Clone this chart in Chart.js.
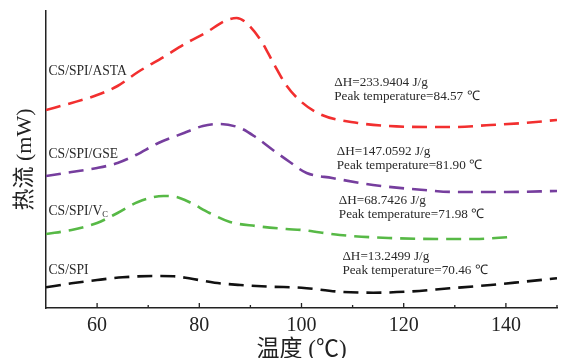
<!DOCTYPE html>
<html>
<head>
<meta charset="utf-8">
<script src="https://cdn.jsdelivr.net/npm/chart.js@4.4.0/dist/chart.umd.min.js"></script>
<style>
  html, body { margin: 0; padding: 0; background: #fff; }
  #wrap { width: 563px; height: 358px; }
</style>
</head>
<body>
<div id="wrap"><canvas id="dsc"></canvas></div>
<script>
// DSC heat-flow curves, temperature in °C, heat flow offset per sample (mW)
const astaT  = [50, 55, 60, 64, 68, 73, 77.5, 81.5, 85, 87.3, 89, 92, 94.5, 97, 100, 104, 111, 117, 125, 130, 137, 143.5, 150];
const astaHF = [19.8, 20.5, 21.3, 22.2, 23.6, 25.1, 26.5, 27.6, 28.7, 29.0, 28.6, 26.8, 24.5, 22.3, 20.6, 19.3, 18.5, 18.2, 18.1, 18.1, 18.3, 18.5, 18.8];

const gseT  = [50, 55, 60, 64, 67.6, 72, 77, 80.7, 84, 88, 91, 94.4, 97.7, 101, 106, 114, 124, 130, 140, 150];
const gseHF = [13.2, 13.6, 14.0, 14.5, 15.3, 16.5, 17.5, 18.2, 18.4, 18.0, 17.1, 15.8, 14.6, 13.5, 13.0, 12.3, 11.8, 11.6, 11.6, 11.7];

const vcT  = [50, 55, 60, 64, 68, 73, 75.5, 78, 82, 86, 91, 97, 100, 107.5, 117, 127, 134, 141];
const vcHF = [7.4, 7.8, 8.5, 9.5, 10.6, 11.2, 11.1, 10.6, 9.5, 8.6, 8.2, 7.9, 7.8, 7.3, 7.0, 6.9, 6.9, 7.1];

const spiT  = [50, 55, 60, 65, 71, 75, 78, 83, 88, 94, 100, 107.5, 114, 120.6, 129, 137, 143.5, 150];
const spiHF = [2.07, 2.47, 2.8, 3.07, 3.2, 3.17, 2.97, 2.53, 2.3, 2.13, 2.03, 1.63, 1.53, 1.63, 1.97, 2.3, 2.63, 2.97];

const xTicks = [60, 80, 100, 120, 140];
const xMinorTicks = [70, 90, 110, 130, 150];

const sampleNames = ['CS/SPI/ASTA', 'CS/SPI/GSE', 'CS/SPI/V', 'CS/SPI'];
const enthalpies = ['233.9404', '147.0592', '68.7426', '13.2499'];
const peakTemps = ['84.57', '81.90', '71.98', '70.46'];

// where the text goes, in axis units
const nameSpots = [[50.5, 23.7], [50.5, 15.4], [50.5, 9.7], [50.5, 3.8]];
const noteSpots = [[106.4, 22.5], [106.9, 15.6], [107.3, 10.7], [108.0, 5.1]];

const serif = '"Liberation Serif", "Times New Roman", serif';

function pts(xs, ys) {
    return xs.map((x, i) => ({ x: x, y: ys[i] }));
}

function curve(xs, ys, color) {
    return {
        data: pts(xs, ys),
        borderColor: color,
        borderWidth: 2.6,
        borderDash: [15, 8],
        pointRadius: 0,
        cubicInterpolationMode: 'monotone',
        fill: false
    };
}

const innerTicks = {
    id: 'innerTicks',
    afterDraw(chart) {
        const { ctx, scales: { x }, chartArea } = chart;
        ctx.save();
        ctx.strokeStyle = '#222';
        ctx.lineWidth = 1.3;
        ctx.beginPath();
        xTicks.forEach(v => {
            const px = x.getPixelForValue(v);
            ctx.moveTo(px, chartArea.bottom);
            ctx.lineTo(px, chartArea.bottom - 5);
        });
        xMinorTicks.forEach(v => {
            const px = x.getPixelForValue(v);
            ctx.moveTo(px, chartArea.bottom);
            ctx.lineTo(px, chartArea.bottom - 3);
        });
        ctx.stroke();
        ctx.restore();
    }
};

const dscText = {
    id: 'dscText',
    afterDatasetsDraw(chart) {
        const { ctx, scales: { x, y } } = chart;
        ctx.save();
        ctx.fillStyle = '#2a2a2a';
        ctx.textBaseline = 'middle';
        ctx.textAlign = 'left';

        sampleNames.forEach((name, i) => {
            const px = x.getPixelForValue(nameSpots[i][0]);
            const py = y.getPixelForValue(nameSpots[i][1]);
            ctx.font = '13.6px ' + serif;
            ctx.fillText(name, px, py);
            if (name === 'CS/SPI/V') {
                const w = ctx.measureText(name).width;
                ctx.font = '8.5px ' + serif;
                ctx.fillText('C', px + w, py + 4);
            }
        });

        ctx.font = '13.2px ' + serif;
        enthalpies.forEach((dh, i) => {
            const px = x.getPixelForValue(noteSpots[i][0]);
            const py = y.getPixelForValue(noteSpots[i][1]);
            ctx.fillText('ΔH=' + dh + ' J/g', px, py);
            ctx.fillText('Peak temperature=' + peakTemps[i] + ' ℃', px, py + 14);
        });
        ctx.restore();
    }
};

new Chart(document.getElementById('dsc'), {
    type: 'line',
    data: {
        datasets: [
            curve(astaT, astaHF, '#f22f2f'),
            curve(gseT, gseHF, '#763e9e'),
            curve(vcT, vcHF, '#57b946'),
            curve(spiT, spiHF, '#111111')
        ]
    },
    options: {
        responsive: true,
        maintainAspectRatio: false,
        animation: false,
        layout: { padding: { top: 11, right: 6, left: 0, bottom: 0 } },
        plugins: {
            legend: { display: false },
            tooltip: { enabled: false }
        },
        scales: {
            x: {
                type: 'linear',
                min: 50,
                max: 150,
                afterBuildTicks: scale => { scale.ticks = xTicks.map(v => ({ value: v })); },
                afterFit: scale => { scale.height = 50; },
                grid: { display: false },
                border: { display: true, color: '#222', width: 1.5 },
                ticks: {
                    padding: 0,
                    color: '#222',
                    font: { family: serif, size: 20, lineHeight: 1 },
                    maxRotation: 0
                },
                title: {
                    display: true,
                    text: '温度 (℃)',
                    color: '#222',
                    padding: 0,
                    font: { family: serif + ', "Noto Sans CJK SC"', size: 23, lineHeight: 0.7 }
                }
            },
            y: {
                min: 0,
                max: 29.7,
                afterFit: scale => { scale.width = 46; },
                grid: { display: false },
                border: { display: true, color: '#222', width: 1.5 },
                ticks: { display: false },
                title: {
                    display: true,
                    text: '热流 (mW)',
                    color: '#222',
                    padding: { top: 12, bottom: 0 },
                    font: { family: serif + ', "Noto Sans CJK SC"', size: 22, lineHeight: 1.2 }
                }
            }
        }
    },
    plugins: [innerTicks, dscText]
});
</script>
</body>
</html>
